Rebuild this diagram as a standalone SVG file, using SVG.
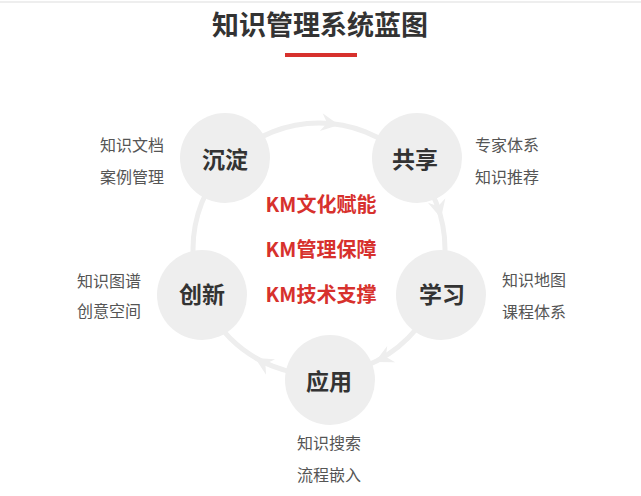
<svg xmlns="http://www.w3.org/2000/svg" width="641" height="496" viewBox="0 0 641 496">
<style>
text{font-family:"Noto Sans CJK SC","Liberation Sans",sans-serif}
.title{font-size:27px;font-weight:bold;fill:#333;text-anchor:middle}
.node circle{fill:#eeeeee}
.lbl{font-size:23px;font-weight:bold;fill:#333;text-anchor:middle}
.side{font-size:16px;fill:#555}
.km{font-size:20px;font-weight:bold;fill:#d7312d;text-anchor:middle}
.ring{fill:none;stroke:#eeeeee;stroke-width:5}
.ah{fill:#eeeeee}
</style>
<defs>
<path id="arrow" d="M0,0 L-18,-9 L-12,0 L-18,9 Z"/>
</defs>
<rect width="641" height="496" fill="#ffffff"/>
<line x1="0" y1="2" x2="641" y2="2" stroke="#eeeeee" stroke-width="2"/>
<g id="title">
<text class="title" x="320" y="35">知识管理系统蓝图</text>
<rect x="285" y="53" width="72" height="4" fill="#d7312d"/>
</g>
<g id="connectors">
<circle class="ring" cx="319" cy="249" r="126"/>
<use href="#arrow" class="ah" transform="translate(339,125) rotate(9)"/>
<use href="#arrow" class="ah" transform="translate(441,218) rotate(76)"/>
<use href="#arrow" class="ah" transform="translate(375,362) rotate(154)"/>
<use href="#arrow" class="ah" transform="translate(255,358) rotate(210)"/>
</g>
<g id="node-chendian" class="node">
<circle cx="225" cy="158" r="45"/>
<text class="lbl" x="225" y="168">沉淀</text>
<text class="side" x="100" y="151">知识文档</text>
<text class="side" x="100" y="183">案例管理</text>
</g>
<g id="node-gongxiang" class="node">
<circle cx="417" cy="158" r="45"/>
<text class="lbl" x="415" y="168">共享</text>
<text class="side" x="475" y="151">专家体系</text>
<text class="side" x="475" y="183">知识推荐</text>
</g>
<g id="node-xuexi" class="node">
<circle cx="441" cy="295" r="45"/>
<text class="lbl" x="442" y="303">学习</text>
<text class="side" x="502" y="286">知识地图</text>
<text class="side" x="502" y="318">课程体系</text>
</g>
<g id="node-yingyong" class="node">
<circle cx="330" cy="380" r="45"/>
<text class="lbl" x="329" y="390">应用</text>
<text class="side" x="297" y="449">知识搜索</text>
<text class="side" x="297" y="481">流程嵌入</text>
</g>
<g id="node-chuangxin" class="node">
<circle cx="202" cy="295" r="45"/>
<text class="lbl" x="202" y="303">创新</text>
<text class="side" x="77" y="287">知识图谱</text>
<text class="side" x="77" y="317">创意空间</text>
</g>
<g id="center">
<text class="km" x="321" y="212">KM文化赋能</text>
<text class="km" x="321" y="257">KM管理保障</text>
<text class="km" x="321" y="302">KM技术支撑</text>
</g>
</svg>
